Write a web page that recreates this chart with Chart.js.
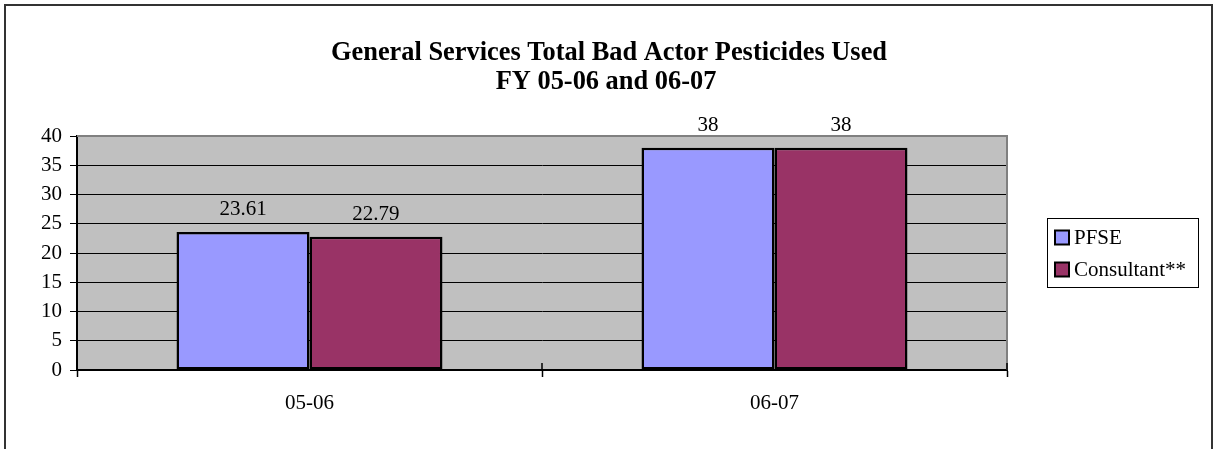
<!DOCTYPE html>
<html>
<head>
<meta charset="utf-8">
<script src="https://cdn.jsdelivr.net/npm/chart.js@4"></script>
<style>
  body { margin: 0; background: #fff; }
  canvas { display: block; }
</style>
</head>
<body>
<canvas id="chart" width="1214" height="449"></canvas>
<script>
// Chart data
const categories = ["05-06", "06-07"];
const pfseValues = [23.61, 38];
const consultantValues = [22.79, 38];
const seriesNames = ["PFSE", "Consultant**"];
const titleLines = ["General Services Total Bad Actor Pesticides Used", "FY 05-06 and 06-07"];

const serif = "'Liberation Serif', 'Times New Roman', serif";

// Background, labels, legend, title and frame drawn around the library's chart
const excelLook = {
    id: "excelLook",
    beforeDraw(chart) {
        const c = chart.ctx;
        const a = chart.chartArea;
        c.save();
        c.fillStyle = "#fff";
        c.fillRect(0, 0, chart.width, chart.height);
        c.fillStyle = "#C0C0C0";
        c.fillRect(a.left, a.top, a.right - a.left, a.bottom - a.top);
        c.restore();
    },
    afterDraw(chart) {
        const c = chart.ctx;
        const a = chart.chartArea;
        c.save();

        // plot area border (top and right)
        c.strokeStyle = "#808080";
        c.lineWidth = 2;
        c.beginPath();
        c.moveTo(a.left, a.top);
        c.lineTo(a.right, a.top);
        c.lineTo(a.right, a.bottom);
        c.stroke();

        // inner half of the category ticks
        c.strokeStyle = "#000";
        c.lineWidth = 1.5;
        c.beginPath();
        for (let i = 0; i <= categories.length; i++) {
            const px = a.left + (a.right - a.left) * i / categories.length;
            c.moveTo(px, a.bottom - 7);
            c.lineTo(px, a.bottom);
        }
        c.stroke();

        // data labels
        c.fillStyle = "#000";
        c.font = "21px " + serif;
        c.textAlign = "center";
        c.textBaseline = "alphabetic";
        chart.data.datasets.forEach((ds, di) => {
            chart.getDatasetMeta(di).data.forEach((el, i) => {
                c.fillText(String(ds.data[i]), el.x, el.y - 17);
            });
        });

        // title
        c.font = "bold 26.4px " + serif;
        c.fillText(titleLines[0], 609, 60);
        c.fillText(titleLines[1], 606, 89);

        // legend
        c.strokeStyle = "#000";
        c.lineWidth = 1;
        c.strokeRect(1047.5, 218.5, 151, 69);
        c.font = "21px " + serif;
        c.textAlign = "left";
        c.textBaseline = "middle";
        chart.data.datasets.forEach((ds, di) => {
            const y = 237 + di * 32;
            c.fillStyle = ds.backgroundColor;
            c.fillRect(1055, y - 6.5, 14, 14);
            c.lineWidth = 2;
            c.strokeRect(1055, y - 6.5, 14, 14);
            c.fillStyle = "#000";
            c.fillText(ds.label, 1074, y + 1);
        });

        // outer chart frame
        c.strokeStyle = "#333";
        c.lineWidth = 2;
        c.beginPath();
        c.moveTo(5, chart.height);
        c.lineTo(5, 5);
        c.lineTo(1212, 5);
        c.lineTo(1212, chart.height);
        c.stroke();

        c.restore();
    }
};

const ctx = document.getElementById("chart").getContext("2d");
const chart = new Chart(ctx, {
    type: "bar",
    data: {
        labels: categories,
        datasets: [
            {
                label: seriesNames[0],
                data: pfseValues,
                backgroundColor: "#9999FF",
                borderColor: "#000",
                borderWidth: 2.5,
                borderSkipped: false
            },
            {
                label: seriesNames[1],
                data: consultantValues,
                backgroundColor: "#993366",
                borderColor: "#000",
                borderWidth: 2.5,
                borderSkipped: false
            }
        ]
    },
    options: {
        responsive: false,
        animation: false,
        layout: { padding: { top: 136, right: 207, left: 0, bottom: 0 } },
        datasets: { bar: { categoryPercentage: 0.572, barPercentage: 1 } },
        plugins: {
            legend: { display: false },
            title: { display: false },
            tooltip: { enabled: false }
        },
        scales: {
            x: {
                afterFit: s => { s.height = 79; },
                grid: {
                    offset: true,
                    drawOnChartArea: false,
                    tickLength: 7,
                    tickColor: "#000",
                    tickWidth: 1.5
                },
                border: { color: "#000", width: 2 },
                ticks: { color: "#000", font: { family: serif, size: 21 }, padding: 14 }
            },
            y: {
                min: 0,
                max: 40,
                afterFit: s => { s.width = 77; },
                grid: {
                    color: c => (c.tick && c.tick.value === 40 ? "#808080" : "#000"),
                    tickColor: "#000",
                    tickLength: 7,
                    lineWidth: 1
                },
                border: { color: "#000", width: 2 },
                ticks: { stepSize: 5, color: "#000", font: { family: serif, size: 21 }, padding: 8 }
            }
        }
    },
    plugins: [excelLook]
});
</script>
</body>
</html>
